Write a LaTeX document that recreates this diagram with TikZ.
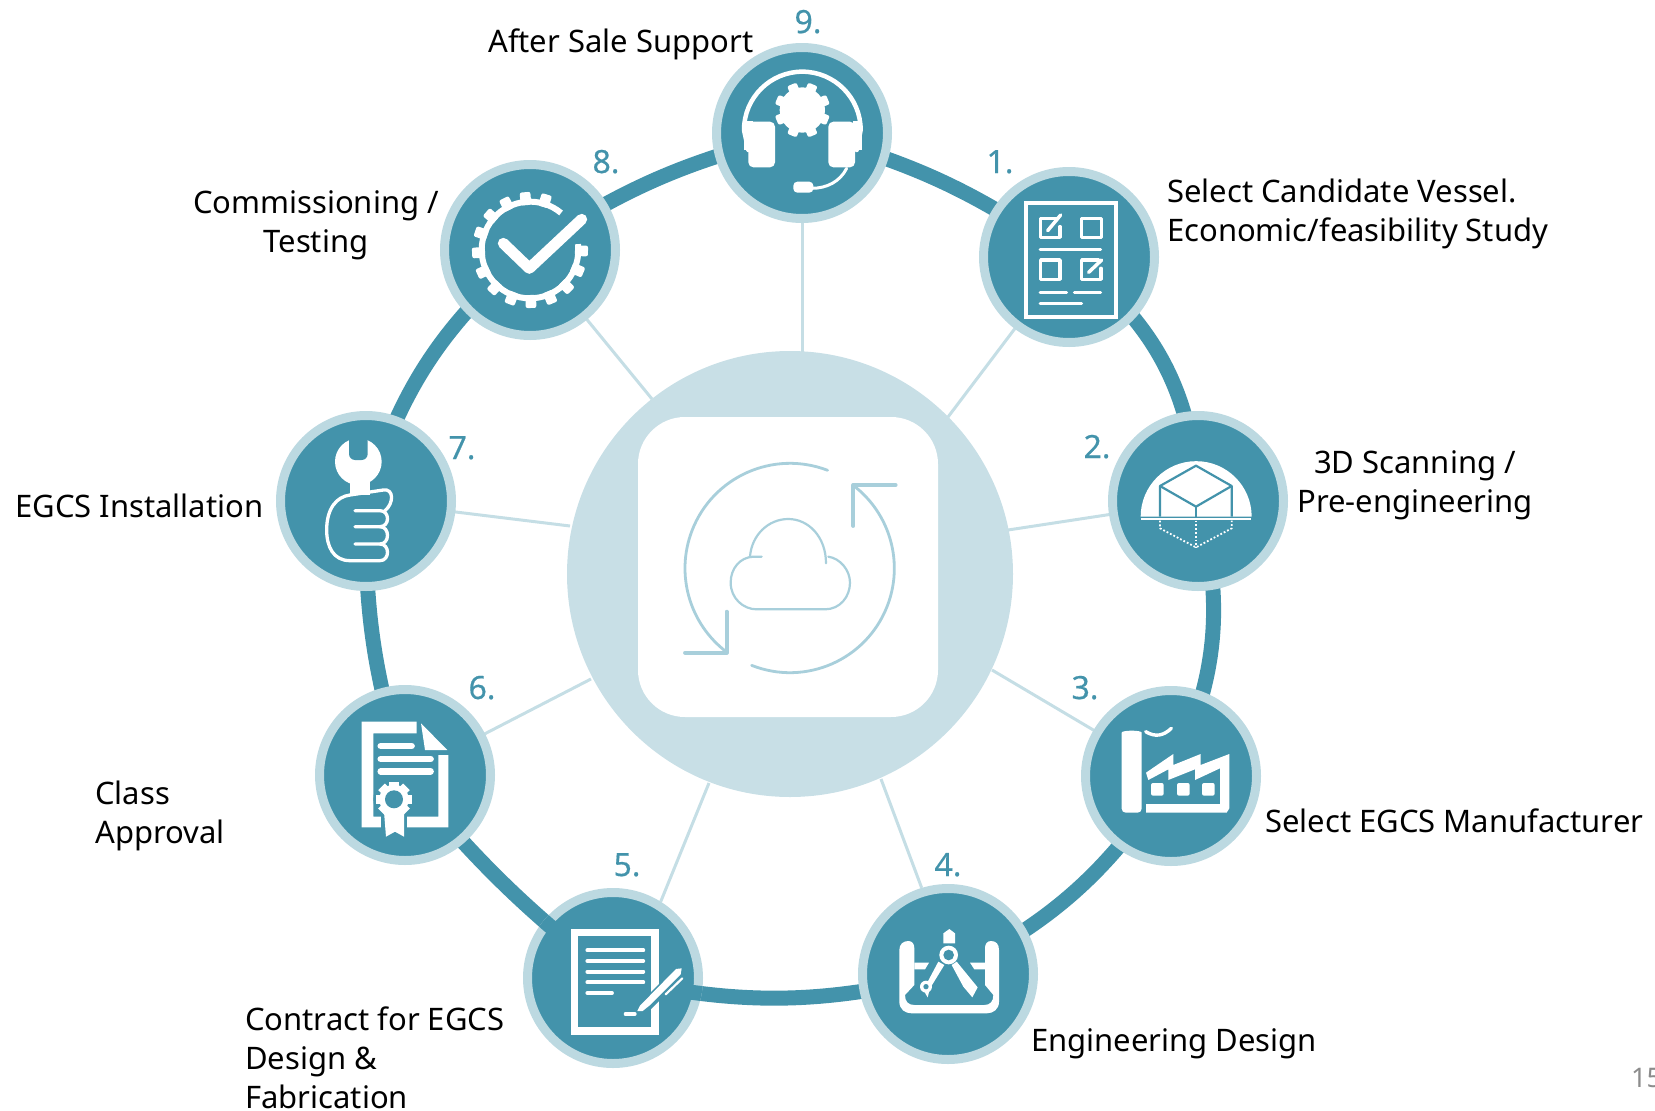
\documentclass[tikz,border=0pt]{standalone}
\usepackage{fontspec}
\setmainfont{Noto Sans}
\newfontfamily\numfont[FakeBold=0.5]{Noto Sans}
\usetikzlibrary{backgrounds}
\definecolor{teal1}{HTML}{4393AB}
\definecolor{ringlt}{HTML}{BCD9E1}
\definecolor{hubc}{HTML}{C8DFE6}
\definecolor{spokec}{HTML}{C5DEE5}
\definecolor{iconlt}{HTML}{A8CFDB}
\definecolor{pageg}{HTML}{8C8C8C}
\tikzset{
  stepnode/.style={circle,draw=ringlt,fill=teal1,line width=9pt,minimum size=171pt,inner sep=0pt},
  rim/.style={draw=teal1,line width=15pt},
  spoke/.style={draw=spokec,line width=3pt},
  lab/.style={font=\fontsize{31}{39}\selectfont,inner sep=0pt,text=black},
  num/.style={font=\numfont\fontsize{32}{38}\selectfont,inner sep=0pt,text=teal1,anchor=base},
  wl/.style={draw=white,line width=#1,line cap=round,line join=round},
  wl/.default=4pt,
  hub line/.style={draw=iconlt,line width=#1,line cap=round,line join=round},
  z1/.style={shift={(680,0)},scale=0.33333},
  z2/.style={shift={(1080,400)},scale=0.33333},
  z4/.style={shift={(270,150)},scale=0.33333},
  z5/.style={shift={(310,680)},scale=0.33333},
  z6/.style={shift={(620,400)},scale=0.33333},
  z7/.style={shift={(440,160)},scale=0.33333},
  z8/.style={shift={(855,880)},scale=0.33333},
  z9/.style={shift={(520,885)},scale=0.33333}
}
\begin{document}
\begin{tikzpicture}[x=1pt,y=1pt,yscale=-1]
\useasboundingbox (0,0) rectangle (1655,1111);
% hub
\node[circle,fill=hubc,minimum size=446pt,inner sep=0pt] (hub) at (790,574) {};
\node[fill=white,rounded corners=47pt,minimum width=300pt,minimum height=300pt,inner sep=0pt] (hubsq) at (788,567) {};
% steps
\node[stepnode] (n1) at (1069,257) {};
\node[stepnode] (n2) at (1198,501) {};
\node[stepnode] (n3) at (1171,776) {};
\node[stepnode] (n4) at (948,974) {};
\node[stepnode] (n5) at (613,978) {};
\node[stepnode] (n6) at (405,775) {};
\node[stepnode] (n7) at (366,501) {};
\node[stepnode] (n8) at (530,250) {};
\node[stepnode] (n9) at (802,133) {};
% spoke ends
\coordinate (s1) at (948,417);
\coordinate (s2) at (1008,530);
\coordinate (s3) at (992,670);
\coordinate (s4) at (881,779);
\coordinate (s5) at (709,783);
\coordinate (s6) at (591,679);
\coordinate (s7) at (570,526);
\coordinate (s8) at (652,399);
\coordinate (s9) at (802,400);
\begin{scope}[on background layer]
  \foreach \k in {1,2,3,6,7,8,9}{\draw[spoke] (n\k.center) -- (s\k);}
  \draw[spoke] (n4.107) -- (s4);
  \draw[spoke] (n5.58) -- (s5);
  \draw[rim] (n9.center) to[bend right=10] (n1.center);
  \draw[rim] (n1.center) to[bend right=25] (n2.center);
  \draw[rim] (n2.center) to[bend right=20] (n3.center);
  \draw[rim] (n3.center) to[bend right=15] (n4.center);
  \draw[rim] (n4.center) to[bend right=13] (n5.center);
  \draw[rim] (n5.center) to[bend right=6] (n6.center);
  \draw[rim] (n6.center) to[bend right=9] (n7.center);
  \draw[rim] (n7.center) to[bend right=16] (n8.center);
  \draw[rim] (n8.center) to[bend right=10] (n9.center);
\end{scope}
% rim pieces lying over the rim of step 5
\begin{scope}
  \clip (613,978) circle (90);
  \draw[rim] (n4.center) to[bend right=13] (n5.center);
  \draw[rim] (n5.center) to[bend right=6] (n6.center);
\end{scope}
% hub icon
\begin{scope}[z6]
  \draw[hub line=2.8pt] (510,505) ++(-69:315) arc[start angle=-69,end angle=-233,radius=315];
  \draw[hub line=2.8pt] (510,505) ++(111.6:313) arc[start angle=111.6,end angle=-52.8,radius=313];
  \draw[hub line=3.8pt] (320,635) -- (320,758) -- (195,758);
  \draw[hub line=3.8pt] (700,378) -- (700,255) -- (827,255);
  \draw[hub line=2.2pt] (425,470) -- (400,470) .. controls (360,472) and (332,505) .. (332,548) .. controls (332,595) and (370,628) .. (410,628) -- (615,628) .. controls (660,628) and (690,590) .. (690,548) .. controls (690,510) and (660,475) .. (625,470);
  \draw[hub line=2.2pt] (390,470) .. controls (395,405) and (445,357) .. (505,357) .. controls (565,357) and (618,410) .. (618,490);
\end{scope}
% icon 9 headset
\begin{scope}[z1]
  \draw[wl=4.5pt] (205,450) -- (192,390) arc[start angle=180,end angle=360,radius=175] -- (530,450);
  \fill[white,rounded corners=5pt] (205,365) rectangle (285,502);
  \fill[white,rounded corners=5pt] (445,365) rectangle (525,502);
  \fill[white] (192,362) rectangle (218,450);
  \fill[white] (520,362) rectangle (545,450);
  \fill[white] (367,330) circle (68);
  \foreach \a in {22.5,67.5,...,360}{
    \fill[white,rotate around={\a:(367,330)},rounded corners=2pt] (352,247) rectangle (382,300);}
  \draw[wl=3pt] (500,505) .. controls (480,545) and (440,565) .. (395,565);
  \fill[white,rounded corners=4pt] (340,545) rectangle (400,578);
\end{scope}
% icon 1 checklist
\begin{scope}[z1]
  \draw[wl=4pt,line join=miter] (1038,608) rectangle (1308,950);
  \draw[wl=3.5pt] (1130,655) -- (1082,655) -- (1082,712) -- (1140,712) -- (1140,680);
  \draw[wl=3.5pt] (1103,692) -- (1142,645);
  \draw[wl=3.5pt] (1205,655) rectangle (1265,712);
  \draw[wl=2.8pt] (1080,748) -- (1262,748);
  \draw[wl=3.5pt] (1082,780) rectangle (1140,838);
  \draw[wl=3.5pt] (1255,780) -- (1205,780) -- (1205,838) -- (1263,838) -- (1263,805);
  \draw[wl=3.5pt] (1226,817) -- (1265,780);
  \draw[wl=2.8pt] (1080,878) -- (1160,878);
  \draw[wl=2.8pt] (1183,878) -- (1262,878);
  \draw[wl=2.8pt] (1080,910) -- (1205,910);
\end{scope}
% icon 2 scan
\begin{scope}[z2]
  \fill[white] (182,350) arc[start angle=180,end angle=360,radius=166.5] -- cycle;
  \draw[white,line width=2pt] (182,356) -- (512,356);
  \draw[teal1,line width=2.2pt,line join=round] (240,350) -- (240,258) -- (348,197) -- (455,258) -- (455,350);
  \draw[teal1,line width=2.2pt,line join=round] (240,258) -- (348,320) -- (455,258);
  \draw[teal1,line width=2.2pt] (348,320) -- (348,350);
  \draw[white,line width=1.8pt,dotted] (240,362) -- (240,385) -- (348,442) -- (455,385) -- (455,362);
  \draw[white,line width=1.8pt,dotted] (348,362) -- (348,442);
\end{scope}
% icon 3 factory
\begin{scope}[z2]
  \fill[white,rounded corners=4pt] (125,1238) -- (125,1010) .. controls (125,990) and (185,990) .. (185,1010) -- (185,1238) -- cycle;
  \draw[wl=3.4pt] (197,995) .. controls (225,1012) and (250,1008) .. (274,985);
  \fill[white] (198,1118) -- (280,1062) -- (280,1095) -- (362,1062) -- (362,1095) -- (448,1062) -- (448,1225) -- (440,1238) -- (198,1238) -- (198,1212) -- (420,1212) -- (420,1105) -- (345,1140) -- (345,1108) -- (265,1140) -- (265,1108) -- (205,1140) -- cycle;
  \foreach \x in {232,310,385}{\fill[white,rounded corners=2pt] (\x-19,1149) rectangle (\x+19,1187);}
\end{scope}
% icon 4 compass
\begin{scope}[z8]
  \fill[white] (133,210) .. controls (133,192) and (145,183) .. (160,183) .. controls (172,183) and (178,192) .. (178,205) -- (178,315) -- (150,345) .. controls (150,365) and (160,375) .. (178,375) -- (388,375) .. controls (405,375) and (415,365) .. (415,345) -- (390,315) -- (390,205) .. controls (390,192) and (396,183) .. (408,183) .. controls (423,183) and (432,192) .. (432,210) -- (432,365) .. controls (432,388) and (415,400) .. (395,400) -- (170,400) .. controls (150,400) and (133,388) .. (133,365) -- cycle;
  \fill[white] (178,248) -- (222,248) -- (210,268) -- (178,268) -- cycle;
  \fill[white] (345,248) -- (390,248) -- (390,268) -- (358,268) -- cycle;
  \draw[teal1,line width=9pt] (258,250) -- (215,335);
  \draw[teal1,line width=9pt] (302,250) -- (358,335);
  \fill[white] (250,245) -- (268,255) -- (225,325) -- (218,352) -- (205,330) -- cycle;
  \fill[white] (290,255) -- (305,245) -- (368,322) -- (352,352) -- (325,320) -- cycle;
  \fill[white] (283,147) -- (300,160) -- (300,190) -- (265,190) -- (265,160) -- cycle;
  \fill[white] (281,225) circle (28);
  \fill[teal1] (281,225) circle (16);
  \fill[white] (213,320) circle (18);
  \fill[teal1] (213,320) circle (8);
\end{scope}
% icon 5 contract
\begin{scope}[z9]
  \draw[white,line width=7.5pt] (164,142) rectangle (405,438);
  \foreach \y in {196,228,260,292}{\draw[wl=3.8pt] (202,\y) -- (370,\y);}
  \draw[wl=3.8pt] (202,324) -- (276,324);
  \draw[teal1,line width=12pt] (365,375) -- (480,260);
  \fill[white] (352,378) -- (360,362) -- (468,252) -- (485,250) -- (482,268) -- (388,362) -- (368,378) -- cycle;
  \draw[teal1,line width=5pt] (430,335) -- (490,275);
  \draw[wl=2.2pt] (437,328) -- (487,280);
  \draw[wl=3.2pt] (316,387) -- (345,387);
\end{scope}
% icon 6 certificate
\begin{scope}[z5]
  \fill[white] (155,125) -- (320,125) -- (320,160) -- (190,160) -- (190,410) -- (385,410) -- (385,225) -- (415,225) -- (415,442) -- (155,442) -- cycle;
  \fill[white] (333,130) -- (412,210) -- (345,210) -- cycle;
  \foreach \y/\e in {198/305,237/362,274/362}{\draw[wl=6.4pt] (212,\y) -- (\e,\y);}
  \fill[teal1] (252,358) circle (62);
  \fill[teal1] (212,400) rectangle (292,445);
  \fill[white] (222,395) -- (282,395) -- (282,470) -- (255,455) -- (228,470) -- cycle;
  \fill[white] (252,358) circle (44);
  \foreach \a in {0,45,...,315}{\fill[white,rotate around={\a:(252,358)}] (238,305) rectangle (266,330);}
  \fill[teal1] (252,358) circle (27);
\end{scope}
% icon 7 wrench
\begin{scope}[z4]
  \fill[white] (265,935) circle (70);
  \fill[teal1,rounded corners=6pt] (237,850) rectangle (293,930);
  \fill[white] (240,990) rectangle (300,1035);
  \fill[teal1] (190,1045) -- (240,1043) -- (340,1030) -- (360,1060) -- (345,1110) -- (190,1140) -- cycle;
  \draw[wl=3.3pt] (255,1082) -- (330,1082) .. controls (360,1082) and (360,1130) .. (330,1130) -- (255,1130);
  \draw[wl=3.3pt] (330,1130) .. controls (360,1130) and (360,1182) .. (330,1182) -- (255,1182);
  \draw[wl=3.3pt] (330,1182) .. controls (360,1182) and (360,1232) .. (330,1232) -- (240,1232) .. controls (190,1232) and (170,1190) .. (170,1140) .. controls (170,1075) and (200,1040) .. (240,1035) -- (340,1020) .. controls (372,1015) and (372,1060) .. (345,1082);
\end{scope}
% icon 8 gear check
\begin{scope}[z7]
  \draw[white,line width=6pt] (270,270) ++(-50:145) arc[start angle=-50,end angle=-367,radius=145];
  \foreach \a in {-73,-95,...,-359}{
    \fill[white,rotate around={\a+90:(270,270)},rounded corners=2pt] (254,96) rectangle (286,135);}
  \draw[wl=11pt] (190,250) -- (268,325) -- (425,178);
\end{scope}
% numbers
\node[num] (t9) at (808,33) {9.};
\node[num] (t1) at (1000,173) {1.};
\node[num] (t2) at (1097,458) {2.};
\node[num] (t3) at (1085,699) {3.};
\node[num] (t4) at (948,876) {4.};
\node[num] (t5) at (627,876) {5.};
\node[num] (t6) at (482,699) {6.};
\node[num] (t7) at (462,459) {7.};
\node[num] (t8) at (606,173) {8.};
% labels
\node[lab,anchor=base west] (l9) at (488,52) {After Sale Support};
\node[lab,anchor=north,align=center] (l8) at (316,190) {Commissioning /\\Testing};
\node[lab,anchor=north west,align=left] (l1) at (1167,179) {Select Candidate Vessel.\\Economic/feasibility Study};
\node[lab,anchor=north,align=center] (l2) at (1415,450) {3D Scanning /\\Pre-engineering};
\node[lab,anchor=base west] (l3) at (1265,832) {Select EGCS Manufacturer};
\node[lab,anchor=base west] (l4) at (1031,1051) {Engineering Design};
\node[lab,anchor=north west,align=left] (l5) at (245,1007) {Contract for EGCS\\Design \&\\Fabrication};
\node[lab,anchor=north west,align=left] (l6) at (95,781) {Class\\Approval};
\node[lab,anchor=base west] (l7) at (15,517) {EGCS Installation};
\node[font=\fontsize{27}{32}\selectfont,text=pageg,inner sep=0pt,anchor=base west] (pg) at (1631,1087) {15};
\end{tikzpicture}
\end{document}
